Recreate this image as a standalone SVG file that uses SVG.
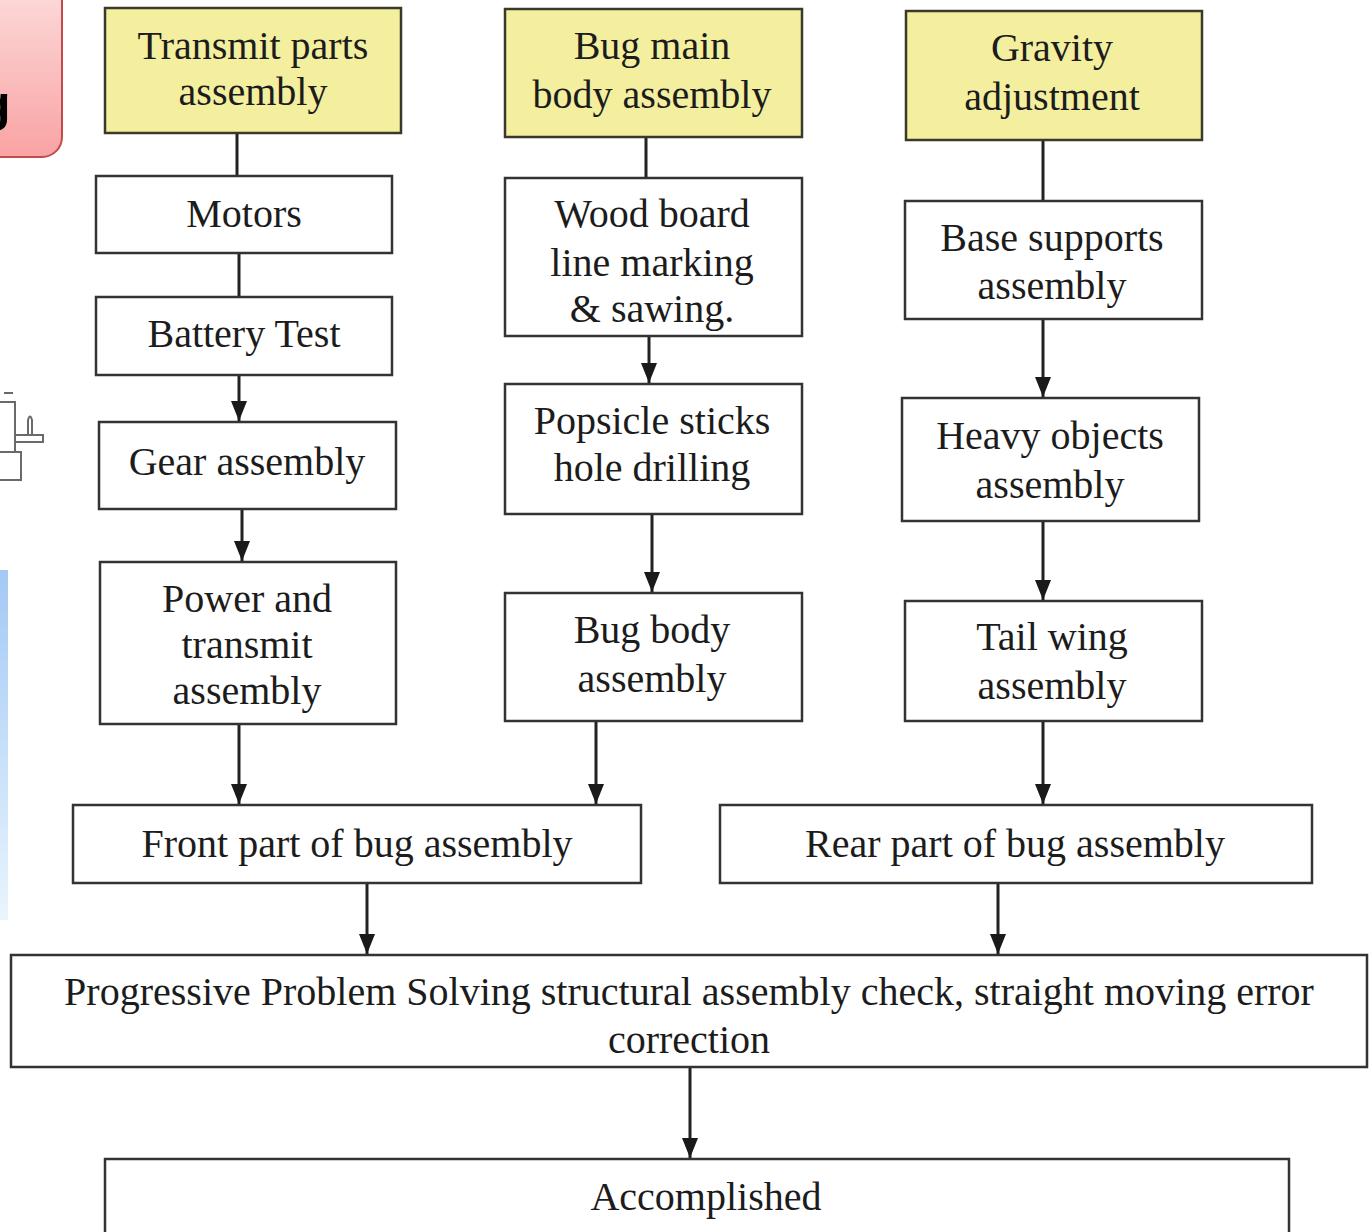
<svg xmlns="http://www.w3.org/2000/svg" width="1372" height="1232" viewBox="0 0 1372 1232">
  <style>
    .box { fill: #ffffff; stroke: #333333; stroke-width: 2.5; }
    .head { fill: #f3ef9e; stroke: #3a3a2a; stroke-width: 2.5; }
    .lbl { font-family: "Liberation Serif", "Times New Roman", serif; font-size: 40px; fill: #1c1c1c; text-anchor: middle; }
    .link { stroke: #222222; stroke-width: 3; fill: none; }
    .arrow { stroke: #222222; stroke-width: 3; fill: none; marker-end: url(#tip); }
    .icon { fill: none; stroke: #6a6a6a; stroke-width: 2; }
  </style>
  <defs>
    <!-- filled triangular arrowhead, tip at the line end -->
    <marker id="tip" viewBox="0 0 20 16" refX="20" refY="8" markerWidth="20" markerHeight="16" markerUnits="userSpaceOnUse" orient="auto">
      <path d="M0,0 L20,8 L0,16 Z" fill="#1a1a1a" />
    </marker>
    <linearGradient id="pink" x1="0" y1="0" x2="0" y2="1">
      <stop offset="0" stop-color="#fde0e0" />
      <stop offset="1" stop-color="#f9a3a3" />
    </linearGradient>
    <linearGradient id="blue" x1="0" y1="0" x2="0" y2="1">
      <stop offset="0" stop-color="#a3c9f6" />
      <stop offset="1" stop-color="#e9f5fd" />
    </linearGradient>
  </defs>

  <rect width="1372" height="1232" fill="#ffffff" />

  <!-- partial elements along the left edge -->
  <g id="edge-decor">
    <rect x="-30" y="-30" width="92" height="187" rx="20" fill="url(#pink)" stroke="#c24a4a" stroke-width="2" />
    <text x="-20" y="121" font-family="Liberation Sans, Arial, sans-serif" font-size="50" font-weight="bold" fill="#000000">g</text>
    <path class="icon" d="M4,393 L13,393" stroke-width="3" />
    <rect class="icon" x="-10" y="402" width="25" height="50" />
    <rect class="icon" x="-10" y="452" width="31" height="28" />
    <rect class="icon" x="15" y="435" width="28" height="7" />
    <path class="icon" d="M28,435 V420 Q30,413 32,420 V435" />
    <rect x="0" y="570" width="8" height="350" fill="url(#blue)" />
  </g>

  <!-- connectors -->
  <g id="connectors">
    <line class="link" x1="237" y1="133" x2="237" y2="176" />
    <line class="link" x1="239" y1="253" x2="239" y2="297" />
    <line class="arrow" x1="239" y1="375" x2="239" y2="421" />
    <line class="arrow" x1="242" y1="509" x2="242" y2="561" />
    <line class="arrow" x1="239" y1="724" x2="239" y2="804" />
    <line class="link" x1="646" y1="137" x2="646" y2="178" />
    <line class="arrow" x1="649" y1="336" x2="649" y2="383" />
    <line class="arrow" x1="652" y1="514" x2="652" y2="592" />
    <line class="arrow" x1="596" y1="721" x2="596" y2="804" />
    <line class="link" x1="1043" y1="140" x2="1043" y2="201" />
    <line class="arrow" x1="1043" y1="319" x2="1043" y2="397" />
    <line class="arrow" x1="1043" y1="521" x2="1043" y2="600" />
    <line class="arrow" x1="1043" y1="721" x2="1043" y2="804" />
    <line class="arrow" x1="367" y1="883" x2="367" y2="954" />
    <line class="arrow" x1="998" y1="883" x2="998" y2="954" />
    <line class="arrow" x1="690" y1="1067" x2="690" y2="1158" />
  </g>

  <!-- column 1: transmit parts -->
  <g id="transmit-parts">
    <rect class="head" x="105" y="8" width="296" height="125" />
    <text class="lbl" x="253" y="59">Transmit parts</text>
    <text class="lbl" x="253" y="105">assembly</text>
  </g>
  <g id="motors">
    <rect class="box" x="96" y="176" width="296" height="77" />
    <text class="lbl" x="244" y="227">Motors</text>
  </g>
  <g id="battery-test">
    <rect class="box" x="96" y="297" width="296" height="78" />
    <text class="lbl" x="244" y="347">Battery Test</text>
  </g>
  <g id="gear-assembly">
    <rect class="box" x="99" y="422" width="297" height="87" />
    <text class="lbl" x="247" y="475">Gear assembly</text>
  </g>
  <g id="power-transmit">
    <rect class="box" x="100" y="562" width="296" height="162" />
    <text class="lbl" x="247" y="612">Power and</text>
    <text class="lbl" x="247" y="658">transmit</text>
    <text class="lbl" x="247" y="704">assembly</text>
  </g>

  <!-- column 2: main body -->
  <g id="bug-main-body">
    <rect class="head" x="505" y="9" width="297" height="128" />
    <text class="lbl" x="652" y="59">Bug main</text>
    <text class="lbl" x="652" y="108">body assembly</text>
  </g>
  <g id="wood-board">
    <rect class="box" x="505" y="178" width="297" height="158" />
    <text class="lbl" x="652" y="227">Wood board</text>
    <text class="lbl" x="652" y="276">line marking</text>
    <text class="lbl" x="652" y="322">&amp; sawing.</text>
  </g>
  <g id="popsicle-drilling">
    <rect class="box" x="505" y="384" width="297" height="130" />
    <text class="lbl" x="652" y="434">Popsicle sticks</text>
    <text class="lbl" x="652" y="481">hole drilling</text>
  </g>
  <g id="bug-body">
    <rect class="box" x="505" y="593" width="297" height="128" />
    <text class="lbl" x="652" y="643">Bug body</text>
    <text class="lbl" x="652" y="692">assembly</text>
  </g>

  <!-- column 3: gravity -->
  <g id="gravity-adjustment">
    <rect class="head" x="906" y="11" width="296" height="129" />
    <text class="lbl" x="1052" y="61">Gravity</text>
    <text class="lbl" x="1052" y="110">adjustment</text>
  </g>
  <g id="base-supports">
    <rect class="box" x="905" y="201" width="297" height="118" />
    <text class="lbl" x="1052" y="251">Base supports</text>
    <text class="lbl" x="1052" y="299">assembly</text>
  </g>
  <g id="heavy-objects">
    <rect class="box" x="902" y="398" width="297" height="123" />
    <text class="lbl" x="1050" y="449">Heavy objects</text>
    <text class="lbl" x="1050" y="498">assembly</text>
  </g>
  <g id="tail-wing">
    <rect class="box" x="905" y="601" width="297" height="120" />
    <text class="lbl" x="1052" y="650">Tail wing</text>
    <text class="lbl" x="1052" y="699">assembly</text>
  </g>

  <!-- merge stages -->
  <g id="front-part">
    <rect class="box" x="73" y="805" width="568" height="78" />
    <text class="lbl" x="357" y="857">Front part of bug assembly</text>
  </g>
  <g id="rear-part">
    <rect class="box" x="720" y="805" width="592" height="78" />
    <text class="lbl" x="1015" y="857">Rear part of bug assembly</text>
  </g>
  <g id="problem-solving">
    <rect class="box" x="11" y="955" width="1356" height="112" />
    <text class="lbl" x="689" y="1005">Progressive Problem Solving structural assembly check, straight moving error</text>
    <text class="lbl" x="689" y="1053">correction</text>
  </g>
  <g id="accomplished">
    <rect class="box" x="105" y="1159" width="1184" height="100" />
    <text class="lbl" x="706" y="1210">Accomplished</text>
  </g>
</svg>
